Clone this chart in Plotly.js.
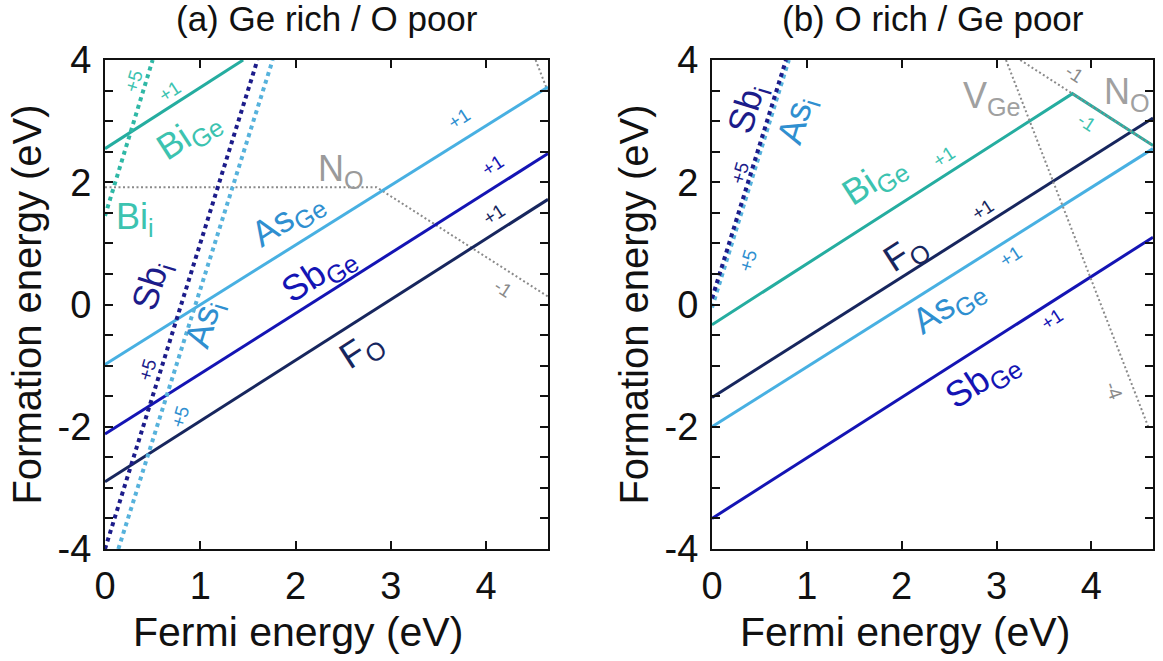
<!DOCTYPE html>
<html>
<head>
<meta charset="utf-8">
<script src="https://cdn.plot.ly/plotly-3.0.1.min.js"></script>
<style>html,body{margin:0;padding:0;background:#fff;}#chart{width:1163px;height:661px;}</style>
</head>
<body>
<div id="chart"></div>
<script>
// ---------- DATA ----------
// Panel (a): Ge rich / O poor
const a_FO_x   = [0, 4.65];        const a_FO_y   = [-2.90, 1.72];
const a_SbGe_x = [0, 4.65];        const a_SbGe_y = [-2.12, 2.47];
const a_AsGe_x = [0, 4.65];        const a_AsGe_y = [-0.98, 3.56];
const a_BiGe_x = [0, 1.45];        const a_BiGe_y = [2.55, 4.00];
const a_Sbi_x  = [0, 1.60];        const a_Sbi_y  = [-4.00, 4.00];
const a_Asi_x  = [0.14, 1.76];     const a_Asi_y  = [-4.00, 4.00];
const a_Bii_x  = [0, 0.50];        const a_Bii_y  = [1.45, 4.00];
const a_NO_x   = [0, 2.85, 4.65];  const a_NO_y   = [1.92, 1.92, 0.13];
const a_VGe_x  = [4.52, 4.65];     const a_VGe_y  = [4.00, 3.48];

// Panel (b): O rich / Ge poor
const b_FO_x   = [0, 4.65];        const b_FO_y   = [-1.52, 3.05];
const b_SbGe_x = [0, 4.65];        const b_SbGe_y = [-3.50, 1.10];
const b_AsGe_x = [0, 4.65];        const b_AsGe_y = [-2.00, 2.55];
const b_BiGe_x = [0, 3.80, 4.65];  const b_BiGe_y = [-0.33, 3.45, 2.60];
const b_Sbi_x  = [0, 0.78];        const b_Sbi_y  = [0.10, 4.00];
const b_Asi_x  = [0, 0.81];        const b_Asi_y  = [-0.05, 4.00];
const b_NO_x   = [3.25, 4.65];     const b_NO_y   = [4.00, 2.60];
const b_VGe_x  = [3.10, 4.60];     const b_VGe_y  = [4.00, -2.00];

// Axis / tick labels
const panelTitles = ["(a) Ge rich / O poor", "(b) O rich / Ge poor"];
const xTitle = "Fermi energy (eV)";
const yTitle = "Formation energy (eV)";
const xTickVals = [0, 1, 2, 3, 4];
const yTickVals = [-4, -2, 0, 2, 4];

// ---------- STYLE ----------
const C = {
  FO: "#17265e", SbGe: "#1414b4", AsGe: "#48b0e2", BiGe: "#25ada0",
  Sbi: "#1c1c8a", Asi: "#56b2dc", Bii: "#2fb8a6", gray: "#8a8a8a",
  AsLbl: "#2f8fd0", BiLbl: "#3cc3b0"
};
const FONT = "Liberation Sans, Arial, Helvetica, sans-serif";

function solid(x, y, color, xa, ya) {
  return {x, y, xaxis: xa, yaxis: ya, mode: "lines", type: "scatter",
    line: {color, width: 3}, hoverinfo: "skip", showlegend: false};
}
function dotted(x, y, color, xa, ya, w) {
  return {x, y, xaxis: xa, yaxis: ya, mode: "lines", type: "scatter",
    line: {color, width: w, dash: w > 3 ? "dot" : "2px,2.5px"}, hoverinfo: "skip", showlegend: false};
}

const traces = [
  // panel a
  dotted(a_NO_x, a_NO_y, C.gray, "x", "y", 2),
  dotted(a_VGe_x, a_VGe_y, C.gray, "x", "y", 2),
  solid(a_FO_x, a_FO_y, C.FO, "x", "y"),
  solid(a_SbGe_x, a_SbGe_y, C.SbGe, "x", "y"),
  solid(a_AsGe_x, a_AsGe_y, C.AsGe, "x", "y"),
  solid(a_BiGe_x, a_BiGe_y, C.BiGe, "x", "y"),
  dotted(a_Asi_x, a_Asi_y, C.Asi, "x", "y", 4),
  dotted(a_Sbi_x, a_Sbi_y, C.Sbi, "x", "y", 4),
  dotted(a_Bii_x, a_Bii_y, C.Bii, "x", "y", 4),
  // panel b
  solid(b_FO_x, b_FO_y, C.FO, "x2", "y2"),
  solid(b_SbGe_x, b_SbGe_y, C.SbGe, "x2", "y2"),
  solid(b_AsGe_x, b_AsGe_y, C.AsGe, "x2", "y2"),
  solid(b_BiGe_x, b_BiGe_y, C.BiGe, "x2", "y2"),
  dotted(b_VGe_x, b_VGe_y, C.gray, "x2", "y2", 2),
  dotted(b_NO_x, b_NO_y, C.gray, "x2", "y2", 2),
  dotted(b_Asi_x, b_Asi_y, C.Asi, "x2", "y2", 4),
  dotted(b_Sbi_x, b_Sbi_y, C.Sbi, "x2", "y2", 4)
];

function lbl(ax, x, y, text, color, size, angle) {
  return {xref: ax[0], yref: ax[1], x, y, text, showarrow: false,
    xanchor: "center", yanchor: "middle",
    font: {family: FONT, size, color}, textangle: angle};
}
const A = ["x", "y"], B = ["x2", "y2"];
const S = 19, L = 36;
const annotations = [
  // panel a labels
  lbl(A, 0.30, 3.65, "+5", C.BiLbl, S, -73),
  lbl(A, 0.68, 3.48, "+1", C.BiLbl, S, -33),
  lbl(A, 0.88, 2.78, "Bi<sub>Ge</sub>", C.BiLbl, L, -33),
  lbl(A, 0.32, 1.40, "Bi<sub>i</sub>", C.BiLbl, L, 0),
  lbl(A, 2.48, 2.18, "N<sub>O</sub>", "#9a9a9a", L, 0),
  lbl(A, 3.72, 3.05, "+1", C.AsLbl, S, -33),
  lbl(A, 1.92, 1.40, "As<sub>Ge</sub>", C.AsLbl, L, -33),
  lbl(A, 4.07, 2.27, "+1", C.SbGe, S, -33),
  lbl(A, 2.25, 0.50, "Sb<sub>Ge</sub>", C.SbGe, L, -33),
  lbl(A, 4.08, 1.48, "+1", C.FO, S, -33),
  lbl(A, 2.70, -0.75, "F<sub>O</sub>", C.FO, L, -33),
  lbl(A, 4.18, 0.27, "-1", "#8a8a8a", S, 33),
  lbl(A, 0.50, 0.30, "Sb<sub>i</sub>", C.Sbi, L, -73),
  lbl(A, 1.05, -0.32, "As<sub>i</sub>", C.AsLbl, L, -73),
  lbl(A, 0.45, -1.07, "+5", C.Sbi, S, -73),
  lbl(A, 0.79, -1.83, "+5", C.AsLbl, S, -73),
  // panel b labels
  lbl(B, 0.38, 3.20, "Sb<sub>i</sub>", C.Sbi, L, -73),
  lbl(B, 0.90, 3.02, "As<sub>i</sub>", C.AsLbl, L, -73),
  lbl(B, 0.29, 2.15, "+5", C.Sbi, S, -73),
  lbl(B, 0.38, 0.72, "+5", C.AsLbl, S, -73),
  lbl(B, 1.72, 2.03, "Bi<sub>Ge</sub>", C.BiLbl, L, -33),
  lbl(B, 2.45, 2.42, "+1", C.BiLbl, S, -33),
  lbl(B, 2.05, 0.84, "F<sub>O</sub>", C.FO, L, -33),
  lbl(B, 2.86, 1.55, "+1", C.FO, S, -33),
  lbl(B, 2.50, -0.03, "As<sub>Ge</sub>", C.AsLbl, L, -33),
  lbl(B, 3.15, 0.78, "+1", C.AsLbl, S, -33),
  lbl(B, 2.86, -1.24, "Sb<sub>Ge</sub>", C.SbGe, L, -33),
  lbl(B, 3.58, -0.24, "+1", C.SbGe, S, -33),
  lbl(B, 2.95, 3.38, "V<sub>Ge</sub>", "#a0a0a0", L, 0),
  lbl(B, 4.38, 3.45, "N<sub>O</sub>", "#a0a0a0", L, 0),
  lbl(B, 3.82, 3.78, "-1", "#8a8a8a", S, 33),
  lbl(B, 3.95, 2.97, "-1", C.BiLbl, S, 33),
  lbl(B, 4.24, -1.40, "-4", "#8a8a8a", S, 70),
  // panel titles
  {xref: "paper", yref: "paper", x: 326.5 / 1163, y: 1 - 19 / 661, xanchor: "center", yanchor: "middle",
   text: panelTitles[0], showarrow: false, font: {family: FONT, size: 35, color: "#111"}},
  {xref: "paper", yref: "paper", x: 932.5 / 1163, y: 1 - 19 / 661, xanchor: "center", yanchor: "middle",
   text: panelTitles[1], showarrow: false, font: {family: FONT, size: 35, color: "#111"}},
  // x-axis titles
  {xref: "paper", yref: "paper", x: 298 / 1163, y: 1 - 632 / 661, xanchor: "center", yanchor: "middle",
   text: xTitle, showarrow: false, font: {family: FONT, size: 41, color: "#111"}},
  {xref: "paper", yref: "paper", x: 905 / 1163, y: 1 - 632 / 661, xanchor: "center", yanchor: "middle",
   text: xTitle, showarrow: false, font: {family: FONT, size: 41, color: "#111"}}
];

function xAx(domain, anchor) {
  return {domain, anchor, range: [0, 4.65], tickvals: xTickVals, ticktext: xTickVals.map(String),
    ticks: "inside", ticklen: 8, tickwidth: 2, tickcolor: "#111",
    showline: true, linecolor: "#111", linewidth: 2, mirror: "allticks",
    showgrid: false, zeroline: false, tickfont: {family: FONT, size: 38, color: "#111"},
    ticklabelstandoff: 2};
}
function yAx(domain, anchor) {
  return {domain, anchor, range: [-4, 4], tickvals: yTickVals, ticktext: yTickVals.map(String),
    ticks: "inside", ticklen: 8, tickwidth: 2, tickcolor: "#111",
    minor: {dtick: 0.5, tick0: 0, ticks: "inside", ticklen: 8, tickwidth: 2, tickcolor: "#111"},
    showline: true, linecolor: "#111", linewidth: 2, mirror: "allticks",
    showgrid: false, zeroline: false, tickfont: {family: FONT, size: 38, color: "#111"},
    ticklabelstandoff: 4,
    title: {text: yTitle, font: {family: FONT, size: 40, color: "#111"}, standoff: 4}};
}

const yDom = [1 - 549 / 661, 1 - 60 / 661];
const layout = {
  width: 1163, height: 661,
  margin: {l: 0, r: 0, t: 0, b: 0},
  paper_bgcolor: "#fff", plot_bgcolor: "#fff",
  font: {family: FONT},
  xaxis: xAx([105 / 1163, 548 / 1163], "y"),
  yaxis: yAx(yDom, "x"),
  xaxis2: xAx([712 / 1163, 1153 / 1163], "y2"),
  yaxis2: yAx(yDom, "x2"),
  annotations,
  showlegend: false
};

Plotly.newPlot("chart", traces, layout, {staticPlot: true, displayModeBar: false});
</script>
</body>
</html>
